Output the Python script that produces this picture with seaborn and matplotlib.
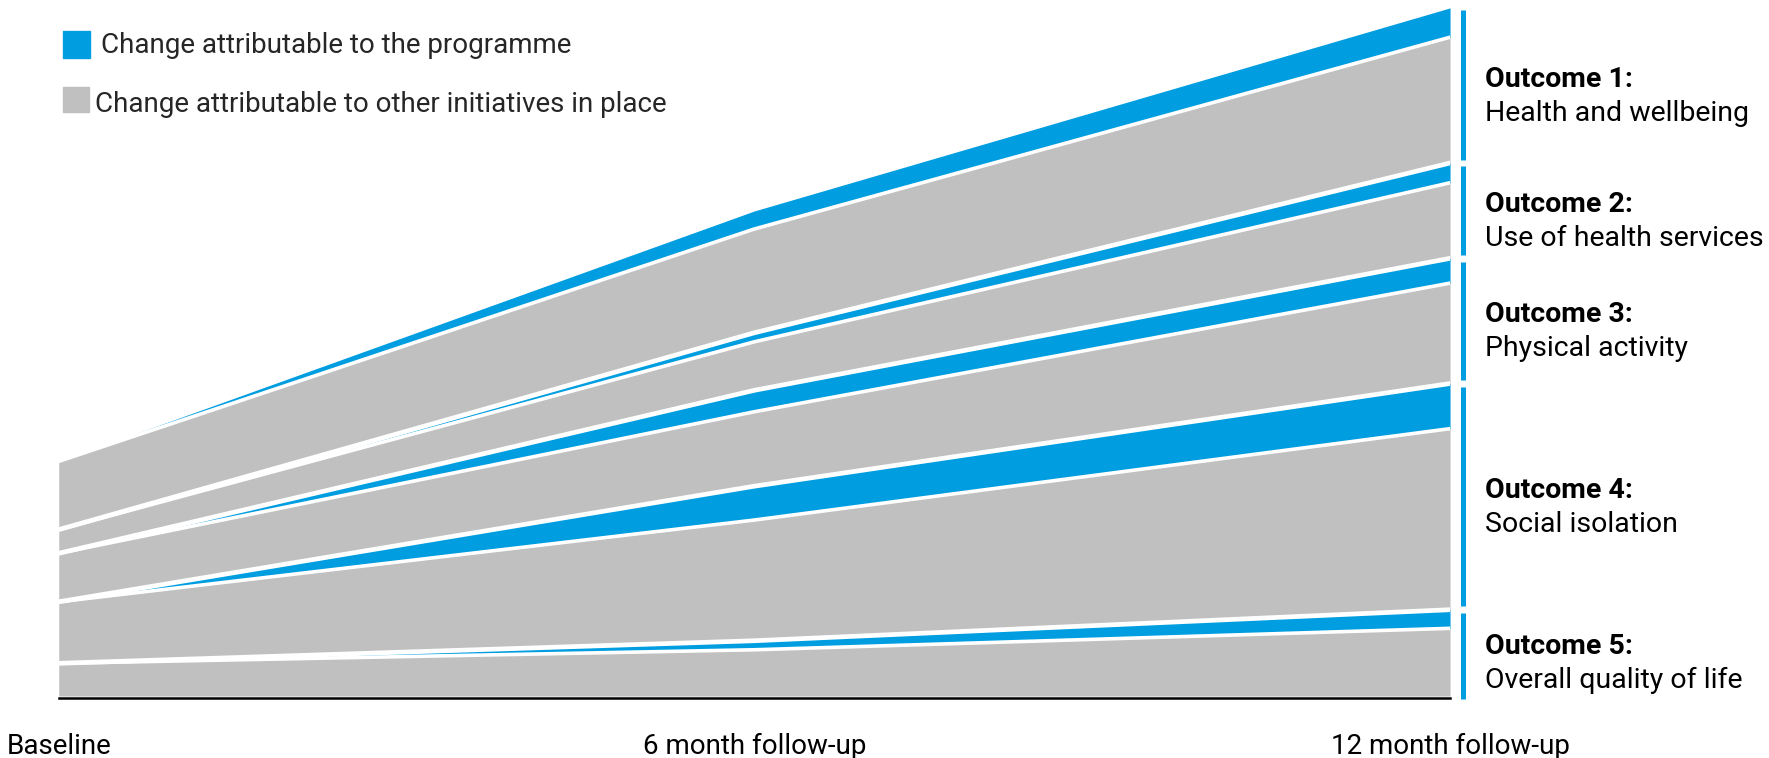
import matplotlib
matplotlib.use("Agg")
import matplotlib.pyplot as plt
from matplotlib.patches import Rectangle
import numpy as np
import pandas as pd
import seaborn as sns

# ---- data ----
timepoints = ["Baseline", "6 month follow-up", "12 month follow-up"]
outcome_titles = ["Outcome 1:", "Outcome 2:", "Outcome 3:", "Outcome 4:", "Outcome 5:"]
outcome_names = ["Health and wellbeing", "Use of health services", "Physical activity",
                 "Social isolation", "Overall quality of life"]
# change attributable to other initiatives in place (grey), per outcome
other_o1 = [60.5, 92, 111.5]
other_o2 = [21, 43, 67]
other_o3 = [43, 66, 89]
other_o4 = [54.5, 107, 160.5]
other_o5 = [29, 41, 60]
# change attributable to the programme (blue), per outcome
prog_o1 = [0, 16, 26]
prog_o2 = [0, 8, 17.5]
prog_o3 = [0, 19, 22]
prog_o4 = [0, 30, 40]
prog_o5 = [0, 8, 16.5]

legend_labels = ["Change attributable to the programme",
                 "Change attributable to other initiatives in place"]

BLUE = "#009EE0"
GREY = "#C0C0C0"

sns.set_theme(style="white")
plt.rcParams["font.family"] = ["Roboto", "DejaVu Sans"]

fig = plt.figure(figsize=(17.69, 7.58), dpi=100)
ax = fig.add_axes([0.0332, 0.0788, 0.7865, 0.9108])

x = np.arange(len(timepoints))
others = [other_o5, other_o4, other_o3, other_o2, other_o1]
progs = [prog_o5, prog_o4, prog_o3, prog_o2, prog_o1]

base = np.zeros(len(x))
line_rows = []
outcome_bounds = []  # (bottom, top) at 12 months, bottom to top order
for i, (o, p) in enumerate(zip(others, progs)):
    o = np.array(o, float)
    p = np.array(p, float)
    start = base.copy()
    ax.fill_between(x, base, base + o, color=GREY, linewidth=0, zorder=1)
    base = base + o
    line_rows.append(("in_%d" % i, base.copy()))
    ax.fill_between(x, base, base + p, color=BLUE, linewidth=0, zorder=1)
    base = base + p
    if i < len(others) - 1:
        line_rows.append(("out_%d" % i, base.copy()))
    outcome_bounds.append((start[-1], base[-1]))

# white separator lines via seaborn
rows = []
for name, vals in line_rows:
    for xi, v in zip(x, vals):
        rows.append({"x": xi, "y": v, "line": name,
                     "kind": "out" if name.startswith("out") else "in"})
df = pd.DataFrame(rows)
sns.lineplot(data=df[df.kind == "in"], x="x", y="y", units="line", estimator=None,
             color="white", linewidth=2.6, ax=ax, zorder=3)
sns.lineplot(data=df[df.kind == "out"], x="x", y="y", units="line", estimator=None,
             color="white", linewidth=3.4, ax=ax, zorder=3)

ax.set_xlim(0, 2)
ax.set_ylim(-2, 610)
ax.set_xlabel("")
ax.set_ylabel("")
ax.set_yticks([])
ax.set_xticks(x)
ax.set_xticklabels(timepoints, fontsize=20, color="black")
ax.tick_params(axis="x", length=0, pad=40)
for lbl in ax.get_xticklabels():
    lbl.set_va("baseline")
for s in ["top", "right", "left"]:
    ax.spines[s].set_visible(False)
ax.spines["bottom"].set_color("black")
ax.spines["bottom"].set_linewidth(1.8)

# right-hand outcome brackets and labels
titles_bt = outcome_titles[::-1]
names_bt = outcome_names[::-1]
n = len(outcome_bounds)
for i, (b, t) in enumerate(outcome_bounds):
    bb = b + 3 if i > 0 else -3
    tt = t - 3 if i < n - 1 else t - 1.5
    ax.plot([2.019, 2.019], [bb, tt], color=BLUE, linewidth=3.6,
            solid_capstyle="butt", clip_on=False)
    c = (b + t) / 2
    ax.annotate(titles_bt[i], xy=(2.0, c), xytext=(25, -1), textcoords="offset points",
                fontsize=20.5, fontweight="bold", va="baseline", ha="left",
                annotation_clip=False, color="black")
    ax.annotate(names_bt[i], xy=(2.0, c), xytext=(25, -25.5), textcoords="offset points",
                fontsize=20.5, va="baseline", ha="left", annotation_clip=False, color="black")

# legend
W, H = 1769, 758
def fig_rect(x0, y0, w, h, color):
    fig.patches.append(Rectangle((x0 / W, 1 - (y0 + h) / H), w / W, h / H,
                                 transform=fig.transFigure, color=color, zorder=5))
fig_rect(63, 31, 27, 27, BLUE)
fig_rect(63, 87, 26, 25, GREY)
fig.text(100.5 / W, 1 - 53 / H, legend_labels[0], fontsize=20, va="baseline", ha="left")
fig.text(95 / W, 1 - 111.5 / H, legend_labels[1], fontsize=20, va="baseline", ha="left")

fig.savefig("out.png", dpi=100)
